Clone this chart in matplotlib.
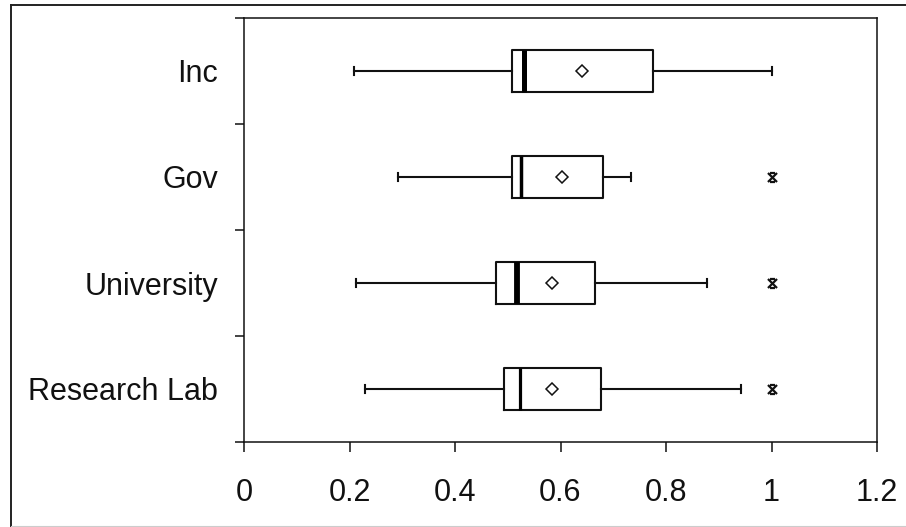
import matplotlib
matplotlib.use("Agg")
import matplotlib.pyplot as plt
from matplotlib.path import Path
from matplotlib.lines import Line2D
from matplotlib.ticker import FixedLocator

# Summary statistics per organisation type (bottom to top)
categories = ["Research Lab", "University", "Gov", "Inc"]
whisker_low = [0.230, 0.213, 0.2925, 0.209]
quartile_1 = [0.492, 0.478, 0.508, 0.508]
medians = [0.523, 0.518, 0.525, 0.530]
quartile_3 = [0.676, 0.665, 0.680, 0.775]
whisker_high = [0.942, 0.877, 0.734, 1.000]
means = [0.584, 0.584, 0.602, 0.640]
outliers = [[1.0], [1.0], [1.0], []]

x_ticks = [0, 0.2, 0.4, 0.6, 0.8, 1.0, 1.2]
x_tick_labels = ["0", "0.2", "0.4", "0.6", "0.8", "1", "1.2"]

plt.rcParams["font.family"] = ["Liberation Sans", "DejaVu Sans"]

W, H = 906, 527
fig = plt.figure(figsize=(W / 100, H / 100), dpi=100)
ax = fig.add_axes([244 / W, 1 - 442 / H, (877 - 244) / W, (442 - 18) / H])

stats = []
for i, name in enumerate(categories):
    stats.append(dict(label=name, whislo=whisker_low[i], q1=quartile_1[i],
                      med=medians[i], q3=quartile_3[i], whishi=whisker_high[i],
                      mean=means[i], fliers=outliers[i]))

# asterisk-style symbol (cross with short bars) for outlying points
star = Path([(-1, -1), (1, 1), (-1, 1), (1, -1), (-0.55, 1), (0.55, 1), (-0.55, -1), (0.55, -1)],
            [Path.MOVETO, Path.LINETO, Path.MOVETO, Path.LINETO,
             Path.MOVETO, Path.LINETO, Path.MOVETO, Path.LINETO])

ink = "#111111"
positions = list(range(len(categories)))
res = ax.bxp(stats, positions=positions, widths=0.4, orientation="horizontal",
             showmeans=True, capwidths=0.08,
             boxprops=dict(color=ink, linewidth=1.5),
             whiskerprops=dict(color=ink, linewidth=1.5),
             capprops=dict(color=ink, linewidth=1.5),
             medianprops=dict(color="black", linewidth=3),
             meanprops=dict(marker="D", markersize=6, markerfacecolor="white",
                            markeredgecolor=ink, markeredgewidth=1.1),
             flierprops=dict(marker=star, markersize=6.5, markeredgecolor=ink,
                             markeredgewidth=1.6, markerfacecolor="none"))

median_widths = [2.3, 4.2, 2.5, 3.6]
for line, lw in zip(res["medians"], median_widths):
    line.set_linewidth(lw)
    line.set_solid_capstyle("butt")

ax.set_xlim(0, 1.2)
ax.set_ylim(-0.5, len(categories) - 0.5)

ax.set_xticks(x_ticks)
ax.set_xticklabels(x_tick_labels)
ax.set_yticks(positions)
ax.set_yticklabels(categories)
ax.yaxis.set_minor_locator(FixedLocator([p - 0.5 for p in positions] + [positions[-1] + 0.5]))

ax.tick_params(axis="x", which="major", direction="out", length=7.2, width=1.1,
               pad=18.5, labelsize=22, colors=ink)
ax.tick_params(axis="y", which="major", length=0, pad=18.5, labelsize=22, colors=ink)
ax.tick_params(axis="y", which="minor", direction="out", length=6.5, width=1.1, color=ink)

for sp in ax.spines.values():
    sp.set_linewidth(1.1)
    sp.set_color(ink)

# outer frame around the whole graphic
fy_top = 1 - 4.5 / H
fx_left = 11 / W
fig.add_artist(Line2D([fx_left, 1], [fy_top, fy_top], transform=fig.transFigure,
                      color="#222222", linewidth=1.4))
fig.add_artist(Line2D([fx_left, fx_left], [0, fy_top], transform=fig.transFigure,
                      color="#222222", linewidth=1.4))
fig.add_artist(Line2D([fx_left, 1], [1 / H, 1 / H], transform=fig.transFigure,
                      color="#cccccc", linewidth=0.8))

fig.savefig("out.png", dpi=100)
